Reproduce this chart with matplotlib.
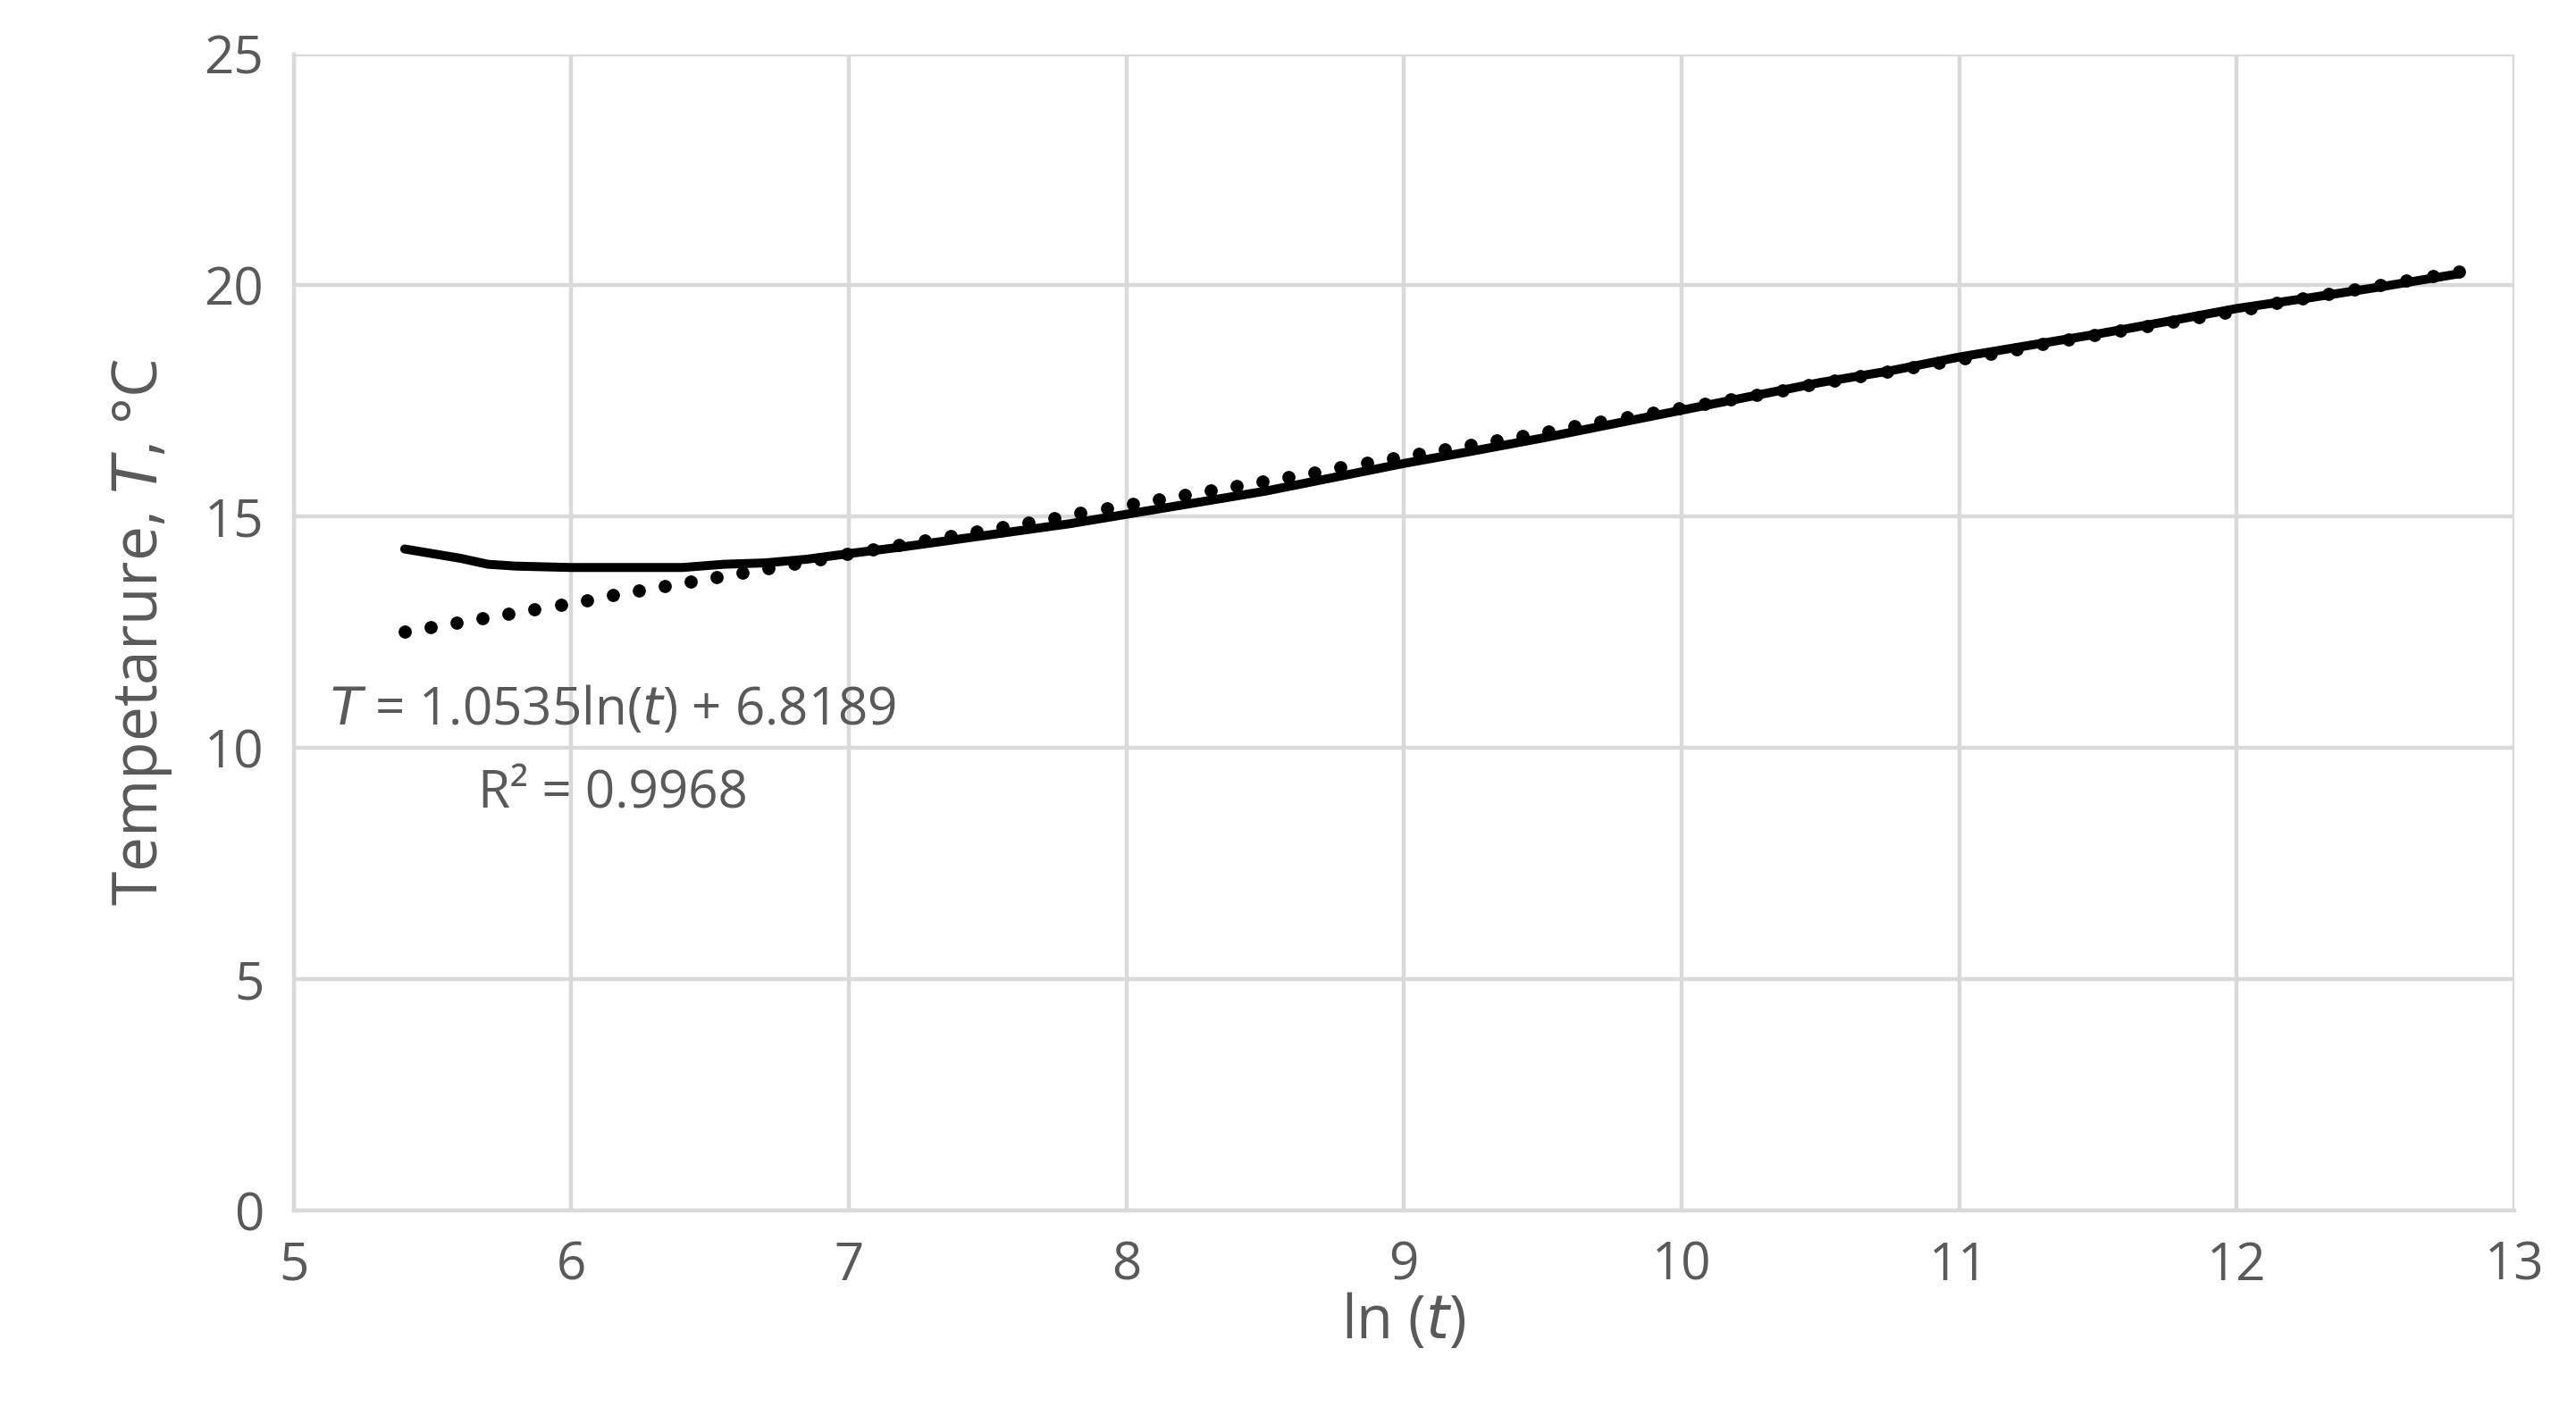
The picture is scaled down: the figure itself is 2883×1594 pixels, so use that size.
import matplotlib
matplotlib.use("Agg")
import matplotlib.pyplot as plt
import numpy as np

x_data = [5.4, 5.5, 5.6, 5.7, 5.8, 6.0, 6.2, 6.4, 6.55, 6.7, 6.85, 7.0, 7.2, 7.5, 7.8, 8.0, 8.25, 8.5, 8.75, 9.0, 9.25, 9.5, 9.75, 10.0, 10.25, 10.5, 10.75, 11.0, 11.25, 11.5, 11.75, 12.0, 12.25, 12.5, 12.8]
T_data = [14.3, 14.2, 14.1, 13.97, 13.93, 13.9, 13.9, 13.9, 13.97, 14.0, 14.08, 14.2, 14.35, 14.6, 14.85, 15.05, 15.3, 15.55, 15.85, 16.15, 16.42, 16.7, 17.0, 17.3, 17.6, 17.9, 18.15, 18.45, 18.7, 18.95, 19.22, 19.5, 19.72, 19.95, 20.25]
slope, intercept = 1.0535, 6.8189

plt.rcParams['font.family'] = ['Open Sans', 'DejaVu Sans']
gray = '#595959'
fig = plt.figure(figsize=(14.415, 7.97), dpi=200)
ax = fig.add_axes([0.114, 0.150, 0.862, 0.812])
ax.plot(x_data, T_data, color='black', lw=3.6, solid_capstyle='round')
xf = np.linspace(5.4, 12.8, 80)
ax.plot(xf, slope*xf + intercept, color='black', lw=0, marker='o', ms=4.3)
ax.set_xlim(5, 13); ax.set_ylim(0, 25)
ax.set_xticks(range(5, 14)); ax.set_yticks(range(0, 26, 5))
ax.grid(True, color='#d9d9d9', lw=1.6)
for s in ax.spines.values():
    s.set_visible(False)
ax.spines['left'].set_visible(True); ax.spines['bottom'].set_visible(True)
ax.spines['left'].set_color('#d9d9d9'); ax.spines['bottom'].set_color('#d9d9d9')
ax.spines['left'].set_linewidth(1.6); ax.spines['bottom'].set_linewidth(1.6)
ax.tick_params(length=0, labelsize=21, colors=gray, pad=12)
ax.set_xlabel(r'ln ($\it{t}$)', fontsize=24, color=gray, labelpad=0)
ax.set_ylabel(r'Tempetarure, $\it{T}$, °C', fontsize=25, color=gray, labelpad=12)
ax.text(6.15, 10.8, r'$\it{T}$ = 1.0535ln($\it{t}$) + 6.8189', fontsize=21, color=gray, ha='center', va='center')
ax.text(6.15, 9.0, 'R² = 0.9968', fontsize=21, color=gray, ha='center', va='center')
fig.savefig('out.png', dpi=200)
